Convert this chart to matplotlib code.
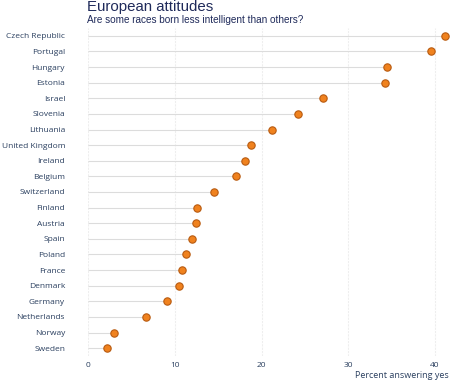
import matplotlib.pyplot as plt

countries = ['Czech Republic', 'Portugal', 'Hungary', 'Estonia', 'Israel', 'Slovenia',
             'Lithuania', 'United Kingdom', 'Ireland', 'Belgium', 'Switzerland', 'Finland',
             'Austria', 'Spain', 'Poland', 'France', 'Denmark', 'Germany', 'Netherlands',
             'Norway', 'Sweden']
percent_yes = [41.1, 39.5, 34.4, 34.2, 27.1, 24.2, 21.2, 18.8, 18.1, 17.0, 14.5, 12.6,
               12.4, 12.0, 11.3, 10.8, 10.5, 9.1, 6.7, 3.0, 2.2]
x_ticks = [0, 10, 20, 30, 40]

navy = '#2a3f5f'

fig = plt.figure(figsize=(4.5, 3.84), dpi=100)
ax = fig.add_axes([88 / 450, 28 / 384, 361 / 450, 328 / 384])

ypos = list(range(len(countries)))[::-1]
ax.hlines(ypos, 0, percent_yes, color='#dcdcdc', linewidth=0.8, zorder=1)
ax.scatter(percent_yes, ypos, s=28, color='#f0821e', edgecolor='#b85a10',
           linewidth=0.8, zorder=3)

ax.set_xlim(0, 41.6)
ax.set_ylim(-0.5, len(countries) - 0.5)
ax.set_xticks(x_ticks)
ax.set_yticks(ypos)
ax.set_yticklabels(countries)
ax.tick_params(length=0, labelsize=6, labelcolor=navy)
ax.tick_params(axis='x', pad=4)
ax.tick_params(axis='y', pad=16.5)
for lab in ax.get_xticklabels() + ax.get_yticklabels():
    lab.set_fontfamily('Open Sans')
ax.grid(axis='x', color='#eeeeee', linewidth=0.8, linestyle=(0, (2, 1)))
ax.set_axisbelow(True)
for s in ax.spines.values():
    s.set_visible(False)

ax.set_xlabel('Percent answering yes', fontsize=6.5, color=navy, family='Open Sans',
              loc='right', labelpad=2)

fig.text(87 / 450, 1 - 7 / 384, 'European attitudes', fontsize=10.8, color='#1f2a5a',
         family='Liberation Sans', va='center')
fig.text(87 / 450, 1 - 20 / 384, 'Are some races born less intelligent than others?',
         fontsize=7.2, color='#1f2a5a', family='Liberation Sans', va='center')

fig.savefig('out.png', dpi=100)
